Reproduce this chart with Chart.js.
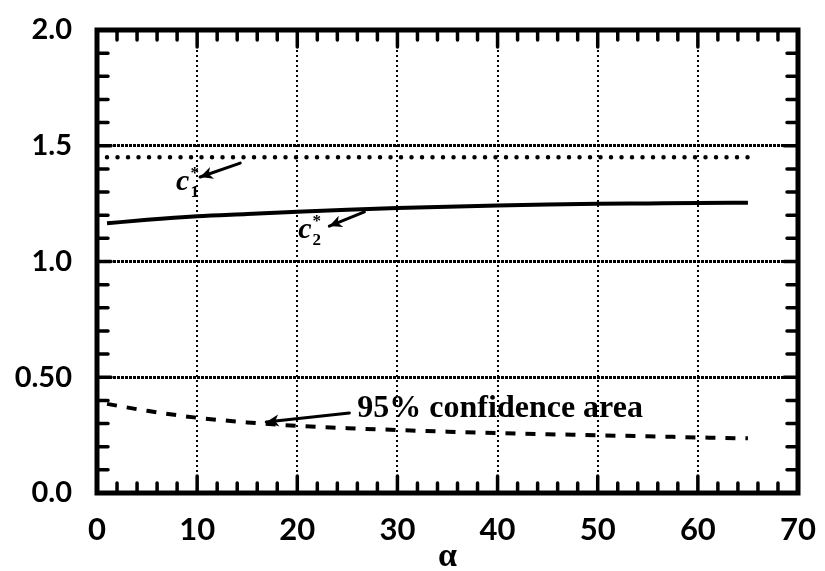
<!DOCTYPE html>
<html>
<head>
<meta charset="utf-8">
<script src="https://cdn.jsdelivr.net/npm/chart.js@4/dist/chart.umd.min.js"></script>
<style>
  html, body { margin: 0; padding: 0; background: #fff; }
  #wrap { width: 825px; height: 571px; }
</style>
</head>
<body>
<div id="wrap"><canvas id="grafico"></canvas></div>
<script>
// valores de alpha e das curvas
const alpha = [1, 5, 10, 15, 20, 25, 30, 35, 40, 45, 50, 55, 60, 65];
const c1 = [1.45, 1.45, 1.45, 1.45, 1.45, 1.45, 1.45, 1.45, 1.45, 1.45, 1.45, 1.45, 1.45, 1.45];
const c2 = [1.165, 1.18, 1.195, 1.205, 1.215, 1.224, 1.231, 1.237, 1.242, 1.246, 1.249, 1.251, 1.253, 1.254];
const conf = [0.385, 0.355, 0.325, 0.305, 0.29, 0.28, 0.272, 0.265, 0.259, 0.254, 0.249, 0.245, 0.24, 0.236];

const xTicks = [0, 10, 20, 30, 40, 50, 60, 70];
const yTicks = [0.0, 0.5, 1.0, 1.5, 2.0];
const yLabels = ["0.0", "0.50", "1.0", "1.5", "2.0"];

const pontos = (ys) => alpha.map((a, i) => ({ x: a, y: ys[i] }));

// moldura, marcas internas e anotações
const molduraPlugin = {
  id: "moldura",
  afterDraw(chart) {
    const { ctx, chartArea: a, scales: { x, y } } = chart;
    ctx.save();
    ctx.strokeStyle = "#000";
    ctx.fillStyle = "#000";
    ctx.lineCap = "round";

    // marcas do eixo x (a cada 2, maiores a cada 10)
    ctx.lineWidth = 3.5;
    for (let v = 2; v < 70; v += 2) {
      const px = x.getPixelForValue(v);
      const len = v % 10 === 0 ? 17 : 10;
      ctx.beginPath();
      ctx.moveTo(px, a.bottom); ctx.lineTo(px, a.bottom - len);
      ctx.moveTo(px, a.top); ctx.lineTo(px, a.top + len);
      ctx.stroke();
    }
    // marcas do eixo y (a cada 0.1)
    for (let k = 1; k < 20; k++) {
      const py = y.getPixelForValue(k / 10);
      const len = k % 5 === 0 ? 14 : 11;
      ctx.beginPath();
      ctx.moveTo(a.left, py); ctx.lineTo(a.left + len, py);
      ctx.moveTo(a.right, py); ctx.lineTo(a.right - len, py);
      ctx.stroke();
    }

    // moldura
    ctx.lineWidth = 5;
    ctx.lineCap = "square";
    ctx.strokeRect(a.left, a.top, a.right - a.left, a.bottom - a.top);

    // setas
    const seta = (x0, y0, x1, y1) => {
      const X0 = x.getPixelForValue(x0), Y0 = y.getPixelForValue(y0);
      const X1 = x.getPixelForValue(x1), Y1 = y.getPixelForValue(y1);
      const ang = Math.atan2(Y1 - Y0, X1 - X0);
      ctx.lineWidth = 3;
      ctx.lineCap = "round";
      ctx.beginPath();
      ctx.moveTo(X0, Y0); ctx.lineTo(X1, Y1);
      ctx.stroke();
      ctx.beginPath();
      ctx.moveTo(X1, Y1);
      ctx.lineTo(X1 - 14 * Math.cos(ang - 0.45), Y1 - 14 * Math.sin(ang - 0.45));
      ctx.lineTo(X1 - 9 * Math.cos(ang), Y1 - 9 * Math.sin(ang));
      ctx.lineTo(X1 - 14 * Math.cos(ang + 0.45), Y1 - 14 * Math.sin(ang + 0.45));
      ctx.closePath();
      ctx.fill();
    };
    seta(14.3, 1.425, 10.3, 1.365);
    seta(26.7, 1.214, 23.2, 1.153);
    seta(25.2, 0.346, 16.9, 0.307);

    // rótulos c1*, c2*
    const rotulo = (xv, yv, sub) => {
      const X = x.getPixelForValue(xv), Y = y.getPixelForValue(yv);
      ctx.textBaseline = "alphabetic";
      ctx.textAlign = "left";
      ctx.font = "italic bold 30px 'Liberation Serif'";
      ctx.fillText("c", X, Y);
      const w = ctx.measureText("c").width;
      ctx.font = "bold 17px 'Liberation Serif'";
      ctx.fillText(sub, X + w + 1, Y + 7);
      ctx.fillText("*", X + w + 1, Y - 12);
    };
    rotulo(7.9, 1.31, "1");
    rotulo(20.1, 1.10, "2");

    ctx.font = "bold 32px 'Liberation Serif'";
    ctx.textAlign = "left";
    ctx.textBaseline = "alphabetic";
    ctx.fillText("95% confidence area", x.getPixelForValue(26.0), y.getPixelForValue(0.328));
    ctx.restore();
  }
};

const ctx = document.getElementById("grafico");

new Chart(ctx, {
  type: "line",
  data: {
    datasets: [
      {
        label: "c1*",
        data: pontos(c1),
        borderColor: "#000",
        borderWidth: 4.5,
        borderDash: [0, 10.5],
        borderCapStyle: "round",
        pointRadius: 0
      },
      {
        label: "c2*",
        data: pontos(c2),
        borderColor: "#000",
        borderWidth: 4,
        cubicInterpolationMode: "monotone",
        pointRadius: 0
      },
      {
        label: "95% confidence area",
        data: pontos(conf),
        borderColor: "#000",
        borderWidth: 4,
        borderDash: [10, 10],
        cubicInterpolationMode: "monotone",
        pointRadius: 0
      }
    ]
  },
  options: {
    responsive: true,
    maintainAspectRatio: false,
    animation: false,
    layout: { padding: { top: 30, right: 27, left: 0, bottom: 0 } },
    plugins: { legend: { display: false }, tooltip: { enabled: false } },
    scales: {
      x: {
        type: "linear",
        min: 0,
        max: 70,
        afterFit: (s) => { s.height = 78; s.paddingLeft = 0; s.paddingRight = 0; },
        afterBuildTicks: (s) => { s.ticks = xTicks.map(v => ({ value: v })); },
        grid: { color: "#000", lineWidth: 2, drawTicks: false },
        border: { display: false, dash: [2, 3] },
        ticks: {
          color: "#000",
          padding: 18,
          font: { family: "Lato", weight: "bold", size: 31 },
          callback: (v) => String(v)
        },
        title: {
          display: true,
          text: "α",
          color: "#000",
          padding: 0,
          font: { family: "Liberation Serif", weight: "bold", size: 34, lineHeight: 0.8 }
        }
      },
      y: {
        min: 0,
        max: 2,
        afterFit: (s) => { s.width = 97; s.paddingTop = 0; s.paddingBottom = 0; },
        afterBuildTicks: (s) => { s.ticks = yTicks.map(v => ({ value: v })); },
        grid: { color: "#000", lineWidth: 3, drawTicks: false },
        border: { display: false, dash: [3, 1] },
        ticks: {
          color: "#000",
          padding: 25,
          font: { family: "Lato", weight: "bold", size: 29 },
          callback: (v) => yLabels[yTicks.indexOf(v)]
        }
      }
    }
  },
  plugins: [molduraPlugin]
});
</script>
</body>
</html>
